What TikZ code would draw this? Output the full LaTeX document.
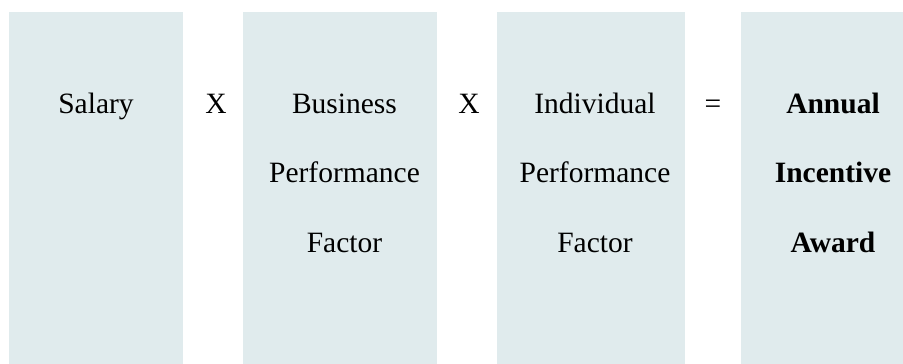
\documentclass[tikz,border=0pt]{standalone}
\usepackage{fontspec}
\setmainfont{Liberation Serif}
\definecolor{boxfill}{RGB}{224,235,237}
\begin{document}
\begin{tikzpicture}[x=1pt,y=-1pt,
  panel/.style={fill=boxfill,draw=none},
  txt/.style={anchor=base,inner sep=0pt,font=\fontsize{29.5}{35}\selectfont},
  btxt/.style={txt,font=\fontsize{29.5}{35}\selectfont\bfseries}]
\useasboundingbox (0,0) rectangle (903,364);
\fill[white] (0,0) rectangle (903,364);
% panels
\path[panel] (9,12) rectangle (183,364);
\path[panel] (243,12) rectangle (437,364);
\path[panel] (497,12) rectangle (685,364);
\path[panel] (741,12) rectangle (903,364);
% texts
\node[txt] (salary) at (96,113) {Salary};
\node[txt] (x1) at (216,113) {X};
\node[txt] (b1) at (344.5,113) {Business};
\node[txt] (b2) at (344.5,182) {Performance};
\node[txt] (b3) at (344.5,252) {Factor};
\node[txt] (x2) at (469,113) {X};
\node[txt] (i1) at (595,113) {Individual};
\node[txt] (i2) at (595,182) {Performance};
\node[txt] (i3) at (595,252) {Factor};
\node[txt] (eq) at (713,113) {=};
\node[btxt] (a1) at (833,113) {Annual};
\node[btxt] (a2) at (833,182) {Incentive};
\node[btxt] (a3) at (833,252) {Award};
\end{tikzpicture}
\end{document}
